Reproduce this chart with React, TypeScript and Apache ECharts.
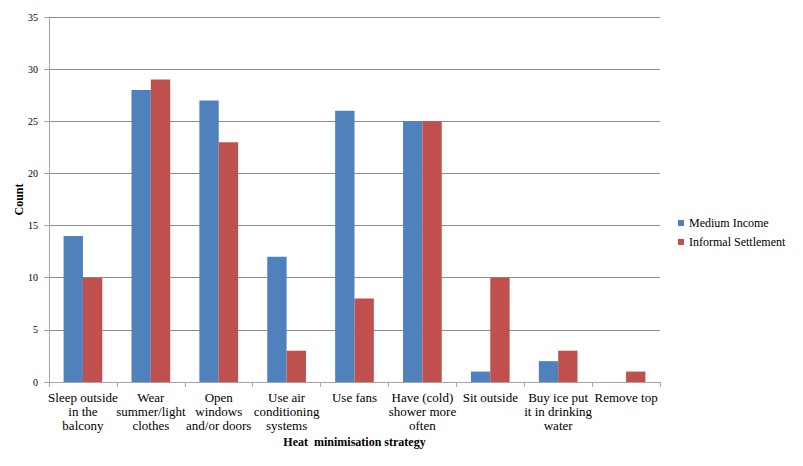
import React, { useEffect, useRef } from "react";
import * as echarts from "echarts";

const categories = [
  "Sleep outside\nin the\nbalcony",
  "Wear\nsummer/light\nclothes",
  "Open\nwindows\nand/or doors",
  "Use air\nconditioning\nsystems",
  "Use fans",
  "Have (cold)\nshower more\noften",
  "Sit outside",
  "Buy ice put\nit in drinking\nwater",
  "Remove top",
];
const mediumIncome = [14, 28, 27, 12, 26, 25, 1, 2, 0];
const informalSettlement = [10, 29, 23, 3, 8, 25, 10, 3, 1];

export default function App() {
  const ref = useRef<HTMLDivElement>(null);
  useEffect(() => {
    const chart = echarts.init(ref.current!, null, { renderer: "svg" });
    const font = "Liberation Serif";
    chart.setOption({
      animation: false,
      textStyle: { fontFamily: font },
      grid: {
        left: 49,
        right: 143,
        top: 17,
        bottom: 84,
        containLabel: false,
        outerBoundsMode: "none",
      },
      legend: {
        orient: "vertical",
        left: 673,
        top: 212,
        itemWidth: 6,
        itemHeight: 6,
        itemGap: 7,
        icon: "rect",
        textStyle: { fontFamily: font, fontSize: 12, color: "#000" },
        data: ["Medium Income", "Informal Settlement"],
      },
      xAxis: {
        type: "category",
        data: categories,
        name: "Heat  minimisation strategy",
        nameLocation: "middle",
        nameGap: 54,
        nameMoveOverlap: false,
        nameTextStyle: { fontFamily: font, fontWeight: "bold", fontSize: 12, color: "#000" },
        axisLine: { lineStyle: { color: "#a6a6a6" } },
        axisTick: { show: true, length: 5, lineStyle: { color: "#a6a6a6" } },
        axisLabel: {
          interval: 0,
          fontFamily: font,
          fontSize: 13,
          lineHeight: 14,
          color: "#000",
          margin: 8,
        },
      },
      yAxis: {
        type: "value",
        min: 0,
        max: 35,
        interval: 5,
        name: "Count",
        nameLocation: "middle",
        nameGap: 24,
        nameMoveOverlap: false,
        nameRotate: 90,
        nameTextStyle: { fontFamily: font, fontWeight: "bold", fontSize: 12, color: "#000" },
        axisLine: { show: true, lineStyle: { color: "#a6a6a6" } },
        axisTick: { show: true, length: 5, lineStyle: { color: "#a6a6a6" } },
        axisLabel: { fontFamily: font, fontSize: 10, color: "#000", margin: 11 },
        splitLine: { lineStyle: { color: "#8c8c8c" } },
      },
      series: [
        {
          name: "Medium Income",
          type: "bar",
          data: mediumIncome,
          itemStyle: { color: "#4F81BD" },
          barGap: "0%",
          barCategoryGap: "43%",
        },
        {
          name: "Informal Settlement",
          type: "bar",
          data: informalSettlement,
          itemStyle: { color: "#C0504D" },
          barGap: "0%",
          barCategoryGap: "43%",
        },
      ],
    });
    return () => chart.dispose();
  }, []);
  return (
    <div
      ref={ref}
      style={{ position: "absolute", left: 0, top: 0, width: 803, height: 466 }}
    />
  );
}
